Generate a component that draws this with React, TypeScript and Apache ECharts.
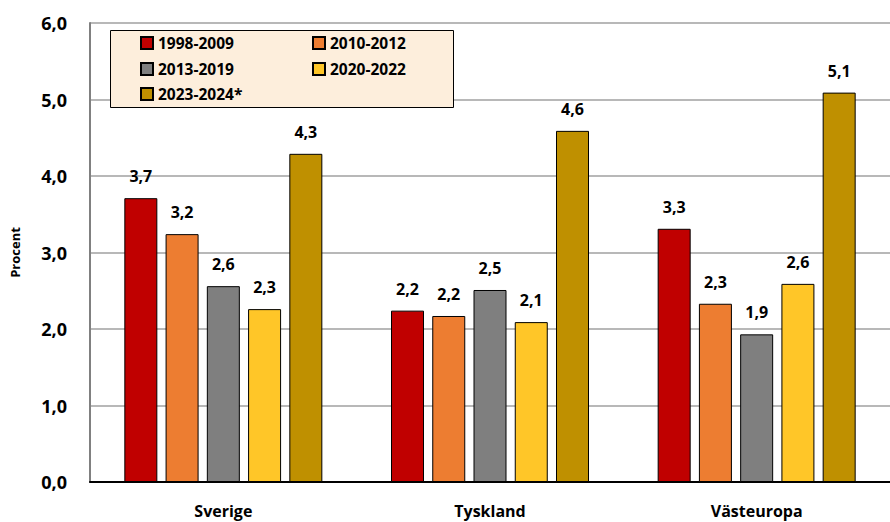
import React, { useEffect, useRef } from "react";
import * as echarts from "echarts";

const categories = ["Sverige", "Tyskland", "Västeuropa"];
const seriesNames = ["1998-2009", "2010-2012", "2013-2019", "2020-2022", "2023-2024*"];
const s1998 = [3.71, 2.24, 3.31];
const s2010 = [3.24, 2.17, 2.33];
const s2013 = [2.56, 2.51, 1.93];
const s2020 = [2.26, 2.09, 2.59];
const s2023 = [4.29, 4.59, 5.09];
const seriesValues = [s1998, s2010, s2013, s2020, s2023];
const colors = ["#C00000", "#ED7D31", "#7F7F7F", "#FFC628", "#BF9000"];
const yTicks = [0, 1, 2, 3, 4, 5, 6];

const FONT = "Open Sans";
const fmt = (v: number) => v.toFixed(1).replace(".", ",");

// legend grid placement (column x of icon, row center y)
const legendCols = [140, 312];
const legendRows = [43, 69, 94];

export default function App() {
  const ref = useRef<HTMLDivElement>(null);
  useEffect(() => {
    if (!ref.current) return;
    const chart = echarts.init(ref.current, undefined, { renderer: "svg" });
    const legends = seriesNames.map((name, i) => ({
      data: [name],
      left: legendCols[i % 2],
      top: legendRows[Math.floor(i / 2)] - 9,
      padding: 0,
      z: 10,
      icon: "rect",
      itemWidth: 12,
      itemHeight: 12,
      itemGap: 5,
      textStyle: {
        fontFamily: FONT,
        fontWeight: "bold",
        fontSize: 15.5,
        lineHeight: 18,
        color: "#000",
        padding: [0, 0, 0, 0],
      },
    }));
    chart.setOption({
      animation: false,
      backgroundColor: "#ffffff",
      grid: { left: 90, right: 0, top: 23, bottom: 40, containLabel: false },
      legend: legends,
      graphic: [
        {
          type: "rect",
          z: 5,
          shape: { x: 110.5, y: 30.5, width: 343, height: 77 },
          style: { fill: "#FDEEDC", stroke: "#000", lineWidth: 1 },
        },
      ],
      xAxis: {
        type: "category",
        data: categories,
        axisLine: { lineStyle: { color: "#000", width: 2 } },
        axisTick: { show: false },
        axisLabel: {
          fontFamily: FONT,
          fontWeight: "bold",
          fontSize: 16,
          color: "#000",
          margin: 21,
        },
      },
      yAxis: {
        type: "value",
        min: yTicks[0],
        max: yTicks[yTicks.length - 1],
        interval: 1,
        name: "Procent",
        nameLocation: "middle",
        nameGap: 69,
        nameTextStyle: { fontFamily: FONT, fontWeight: "bold", fontSize: 13, color: "#000" },
        axisLine: { show: true, lineStyle: { color: "#808080", width: 2 } },
        axisTick: { show: false },
        splitLine: { lineStyle: { color: "#A0A0A0", width: 1.5 } },
        axisLabel: {
          fontFamily: FONT,
          fontWeight: "bold",
          fontSize: 18,
          color: "#000",
          margin: 23,
          formatter: (v: number) => fmt(v),
        },
      },
      series: seriesNames.map((name, i) => ({
        name,
        type: "bar",
        data: seriesValues[i],
        barWidth: 33,
        barGap: "25%",
        itemStyle: { color: colors[i], borderColor: "#000", borderWidth: 1 },
        label: {
          show: true,
          position: "top",
          distance: 14,
          fontFamily: FONT,
          fontWeight: "bold",
          fontSize: 16,
          color: "#000",
          formatter: (p: any) => fmt(p.value),
        },
      })),
    });
    return () => chart.dispose();
  }, []);
  return <div ref={ref} style={{ width: 890, height: 522, position: "absolute", left: 0, top: 0 }} />;
}
